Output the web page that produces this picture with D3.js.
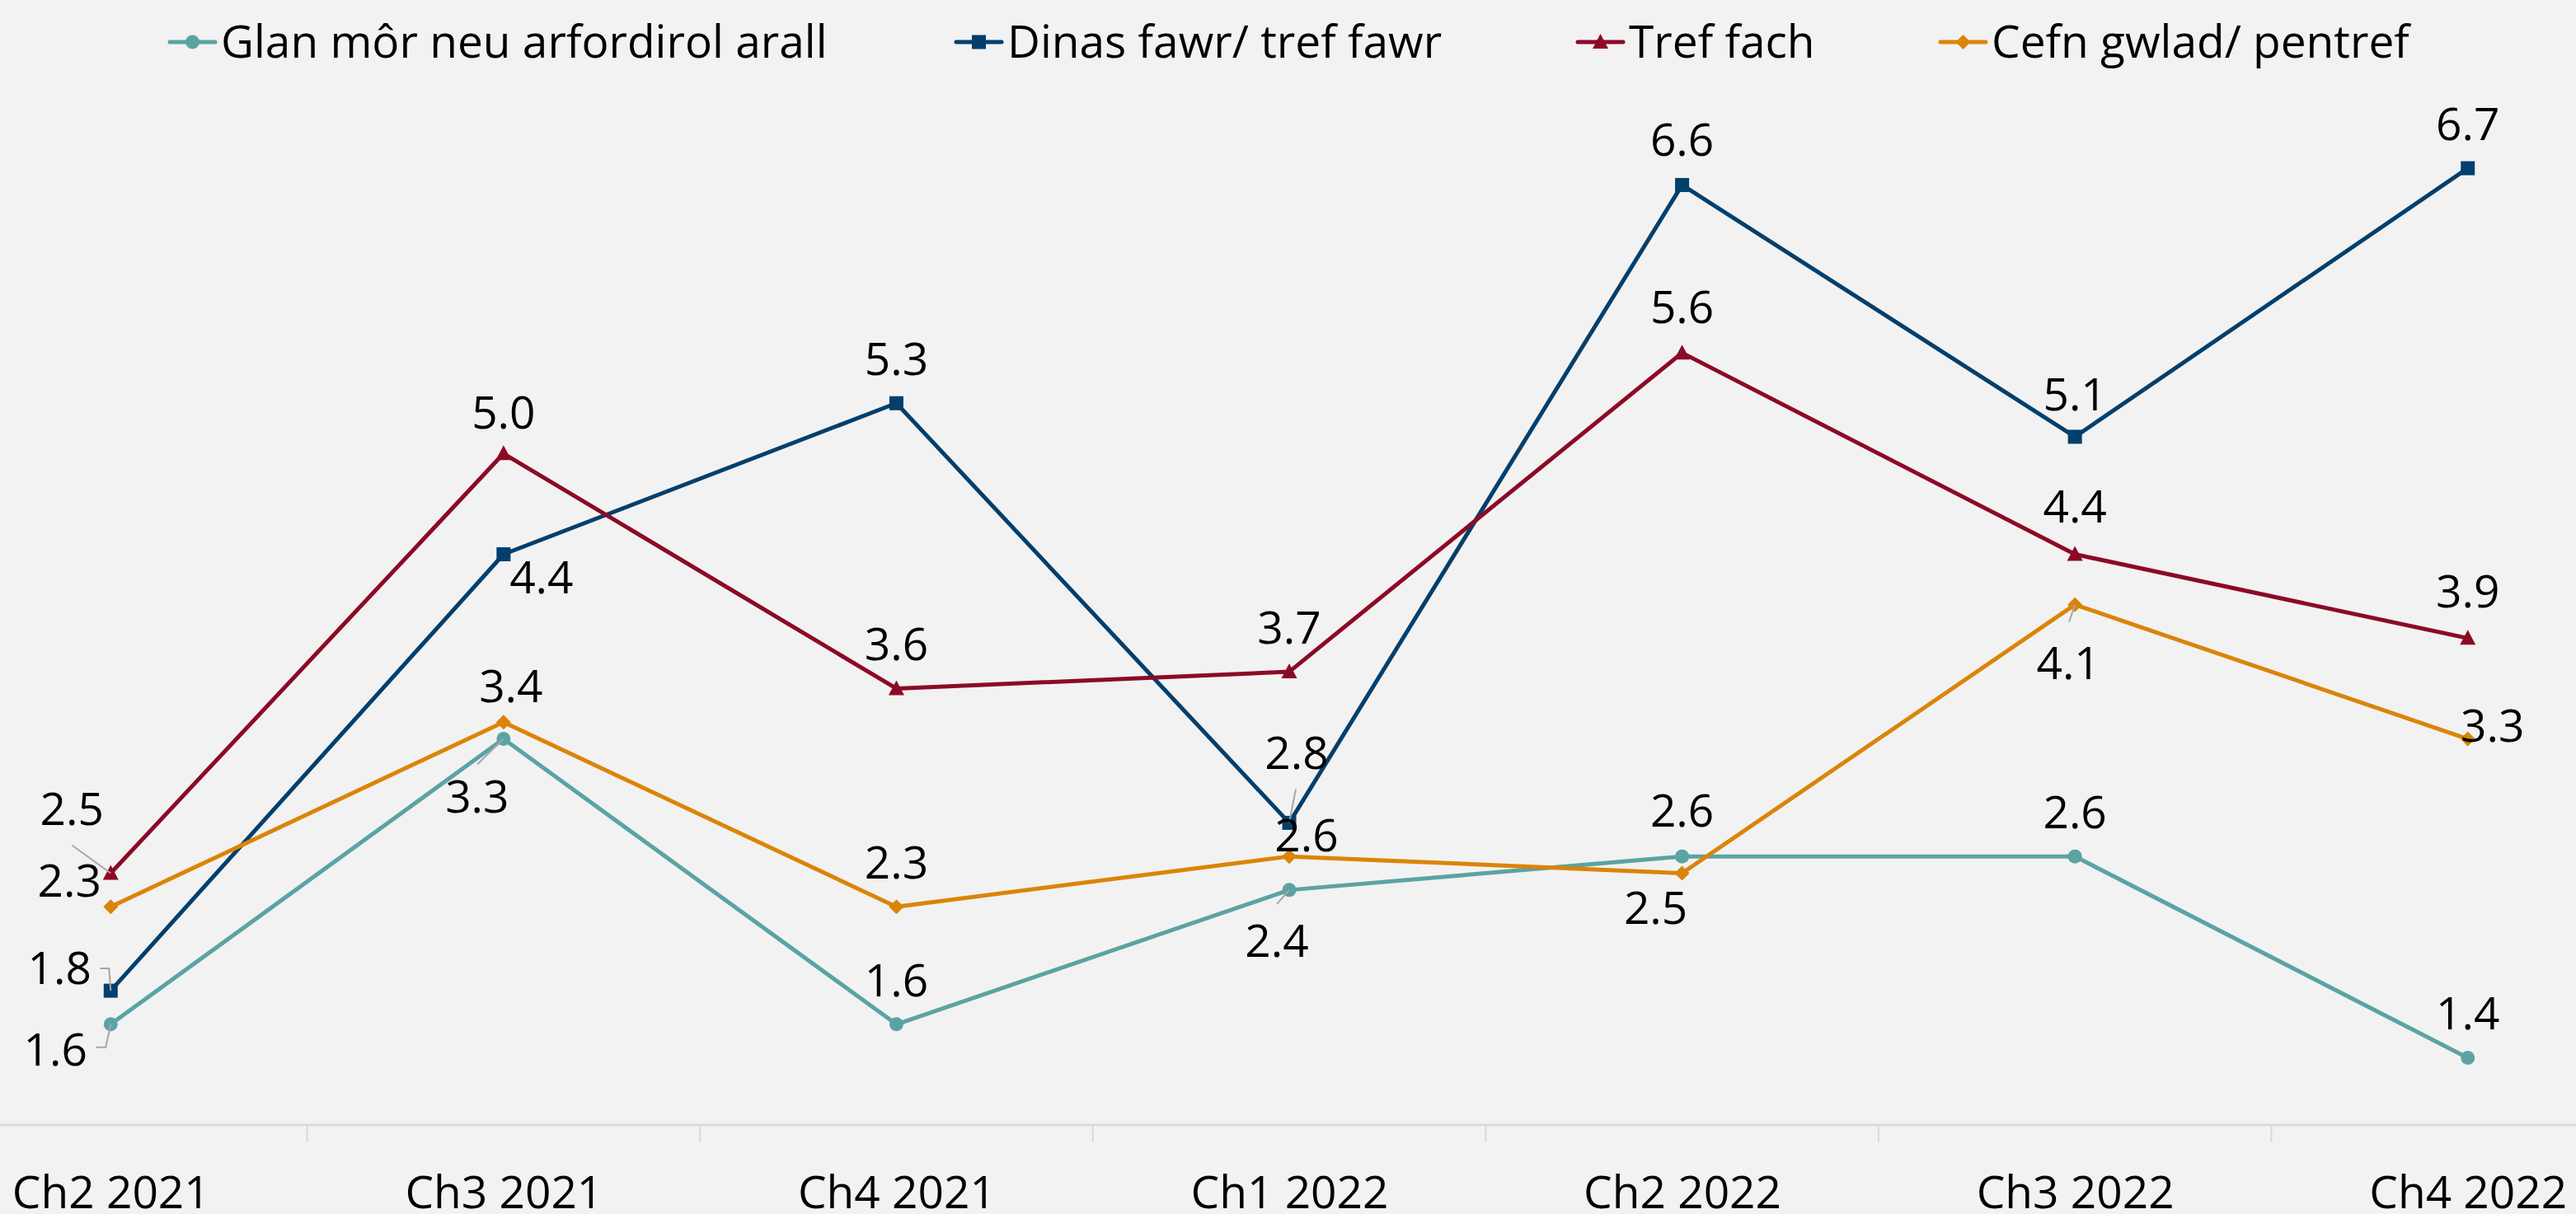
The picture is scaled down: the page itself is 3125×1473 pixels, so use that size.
<!DOCTYPE html>
<html>
<head>
<meta charset="utf-8">
<script src="https://cdn.jsdelivr.net/npm/d3@7"></script>
<style>
  html, body { margin: 0; padding: 0; background: #f2f2f2; }
  svg { display: block; }
  text { font-family: "Open Sans", "Noto Sans", sans-serif; fill: #000; }
</style>
</head>
<body>
<svg id="chart" width="3125" height="1473"></svg>
<script>
// ---- Data ----
const categories = ["Ch2 2021", "Ch3 2021", "Ch4 2021", "Ch1 2022", "Ch2 2022", "Ch3 2022", "Ch4 2022"];
const seriesNames = ["Glan môr neu arfordirol arall", "Dinas fawr/ tref fawr", "Tref fach", "Cefn gwlad/ pentref"];
const glanValues  = [1.6, 3.3, 1.6, 2.4, 2.6, 2.6, 1.4];
const dinasValues = [1.8, 4.4, 5.3, 2.8, 6.6, 5.1, 6.7];
const trefValues  = [2.5, 5.0, 3.6, 3.7, 5.6, 4.4, 3.9];
const cefnValues  = [2.3, 3.4, 2.3, 2.6, 2.5, 4.1, 3.3];

// ---- Styling / layout ----
const colors = ["#5BA3A3", "#033F6C", "#8C0A26", "#DB8408"];
const markerTypes = ["circle", "square", "triangle", "diamond"];
const fontSize = 55;
// label center offsets relative to the point (px)
const labelOffsets = [
  [[-67, 30], [-32, 70], [0, -54], [-15, 61], [0, -56], [0, -54], [0, -54]],
  [[-62, -28], [46, 28], [0, -54], [9, -85], [0, -55], [0, -52], [0, -54]],
  [[-47, -78], [0, -50], [0, -54], [0, -54], [0, -56], [0, -58], [0, -57]],
  [[-50, -32], [9, -44], [0, -54], [21, -26], [-32, 42], [-8, 71], [30, -16]]
];
// leader lines: [series, index, [[dx,dy],...]] relative to point
const leaders = [
  [0, 0, [[-6, 28], [-18, 28]]],
  [0, 1, [[-32, 31]]],
  [0, 3, [[-15, 17]]],
  [1, 0, [[-2, -27], [-13, -27]]],
  [1, 3, [[8, -41]]],
  [2, 0, [[-47, -34]]],
  [3, 5, [[-7, 21]]]
];
const legendX = [206, 1160, 1914, 2354];

const seriesValues = [glanValues, dinasValues, trefValues, cefnValues];

const svg = d3.select("#chart");
svg.append("rect").attr("width", 3125).attr("height", 1473).attr("fill", "#f2f2f2");

const x = d3.scalePoint().domain(categories).range([-104, 3232]).padding(0.5);
const step = x.step();
const y = d3.scaleLinear().domain([1, 7]).range([1365, 143]);

// ---- Axis ----
const axisG = svg.append("g").attr("transform", "translate(0,1365)");
axisG.append("line").attr("x1", 0).attr("x2", 3125).attr("y1", 0).attr("y2", 0)
  .attr("stroke", "#d9d9d9").attr("stroke-width", 3);
const edges = d3.range(categories.length + 1).map(i => x(categories[0]) - step / 2 + i * step);
axisG.selectAll("line.tick").data(edges).join("line").attr("class", "tick")
  .attr("x1", d => d).attr("x2", d => d).attr("y1", 0).attr("y2", 21)
  .attr("stroke", "#d9d9d9").attr("stroke-width", 2);

const xAxis = d3.axisBottom(x).tickSize(0).tickPadding(0);
const labelAxis = svg.append("g").attr("transform", "translate(0,1365)").call(xAxis);
labelAxis.select(".domain").remove();
labelAxis.selectAll("text")
  .attr("y", 101).attr("dy", null)
  .style("font-size", fontSize + "px").style("font-family", '"Open Sans", sans-serif')
  .attr("fill", "#000");

// ---- Markers ----
function drawMarker(g, type, cx, cy, color) {
  if (type === "circle") {
    g.append("circle").attr("cx", cx).attr("cy", cy).attr("r", 8.5).attr("fill", color);
  } else if (type === "square") {
    g.append("rect").attr("x", cx - 8.5).attr("y", cy - 8.5).attr("width", 17).attr("height", 17).attr("fill", color);
  } else if (type === "triangle") {
    g.append("path").attr("d", `M${cx},${cy - 10} L${cx + 9.5},${cy + 8} L${cx - 9.5},${cy + 8} Z`).attr("fill", color);
  } else {
    g.append("path").attr("d", `M${cx},${cy - 9} L${cx + 9},${cy} L${cx},${cy + 9} L${cx - 9},${cy} Z`).attr("fill", color);
  }
}

// ---- Lines ----
const line = d3.line().x((d, i) => x(categories[i])).y(d => y(d));
const linesG = svg.append("g");
seriesValues.forEach((vals, s) => {
  const g = linesG.append("g");
  g.append("path").datum(vals).attr("d", line)
    .attr("fill", "none").attr("stroke", colors[s]).attr("stroke-width", 5)
    .attr("stroke-linejoin", "round");
  vals.forEach((v, i) => drawMarker(g, markerTypes[s], x(categories[i]), y(v), colors[s]));
});

// ---- Leader lines ----
const leadG = svg.append("g");
leaders.forEach(([s, i, pts]) => {
  const px = x(categories[i]), py = y(seriesValues[s][i]);
  const all = [[px, py]].concat(pts.map(p => [px + p[0], py + p[1]]));
  leadG.append("path").attr("d", d3.line()(all))
    .attr("fill", "none").attr("stroke", "#a6a6a6").attr("stroke-width", 2);
});

// ---- Data labels ----
const labG = svg.append("g");
seriesValues.forEach((vals, s) => {
  vals.forEach((v, i) => {
    const off = labelOffsets[s][i];
    labG.append("text")
      .attr("x", x(categories[i]) + off[0])
      .attr("y", y(v) + off[1])
      .attr("dy", "0.36em")
      .attr("text-anchor", "middle")
      .style("font-size", fontSize + "px")
      .text(v.toFixed(1));
  });
});

// ---- Legend ----
const legG = svg.append("g");
seriesNames.forEach((name, s) => {
  const lx = legendX[s];
  legG.append("line").attr("x1", lx).attr("x2", lx + 55).attr("y1", 51).attr("y2", 51)
    .attr("stroke", colors[s]).attr("stroke-width", 5).attr("stroke-linecap", "round");
  drawMarker(legG, markerTypes[s], lx + 27.5, 51, colors[s]);
  legG.append("text").attr("x", lx + 62).attr("y", 70)
    .style("font-size", fontSize + "px").text(name);
});
</script>
</body>
</html>
